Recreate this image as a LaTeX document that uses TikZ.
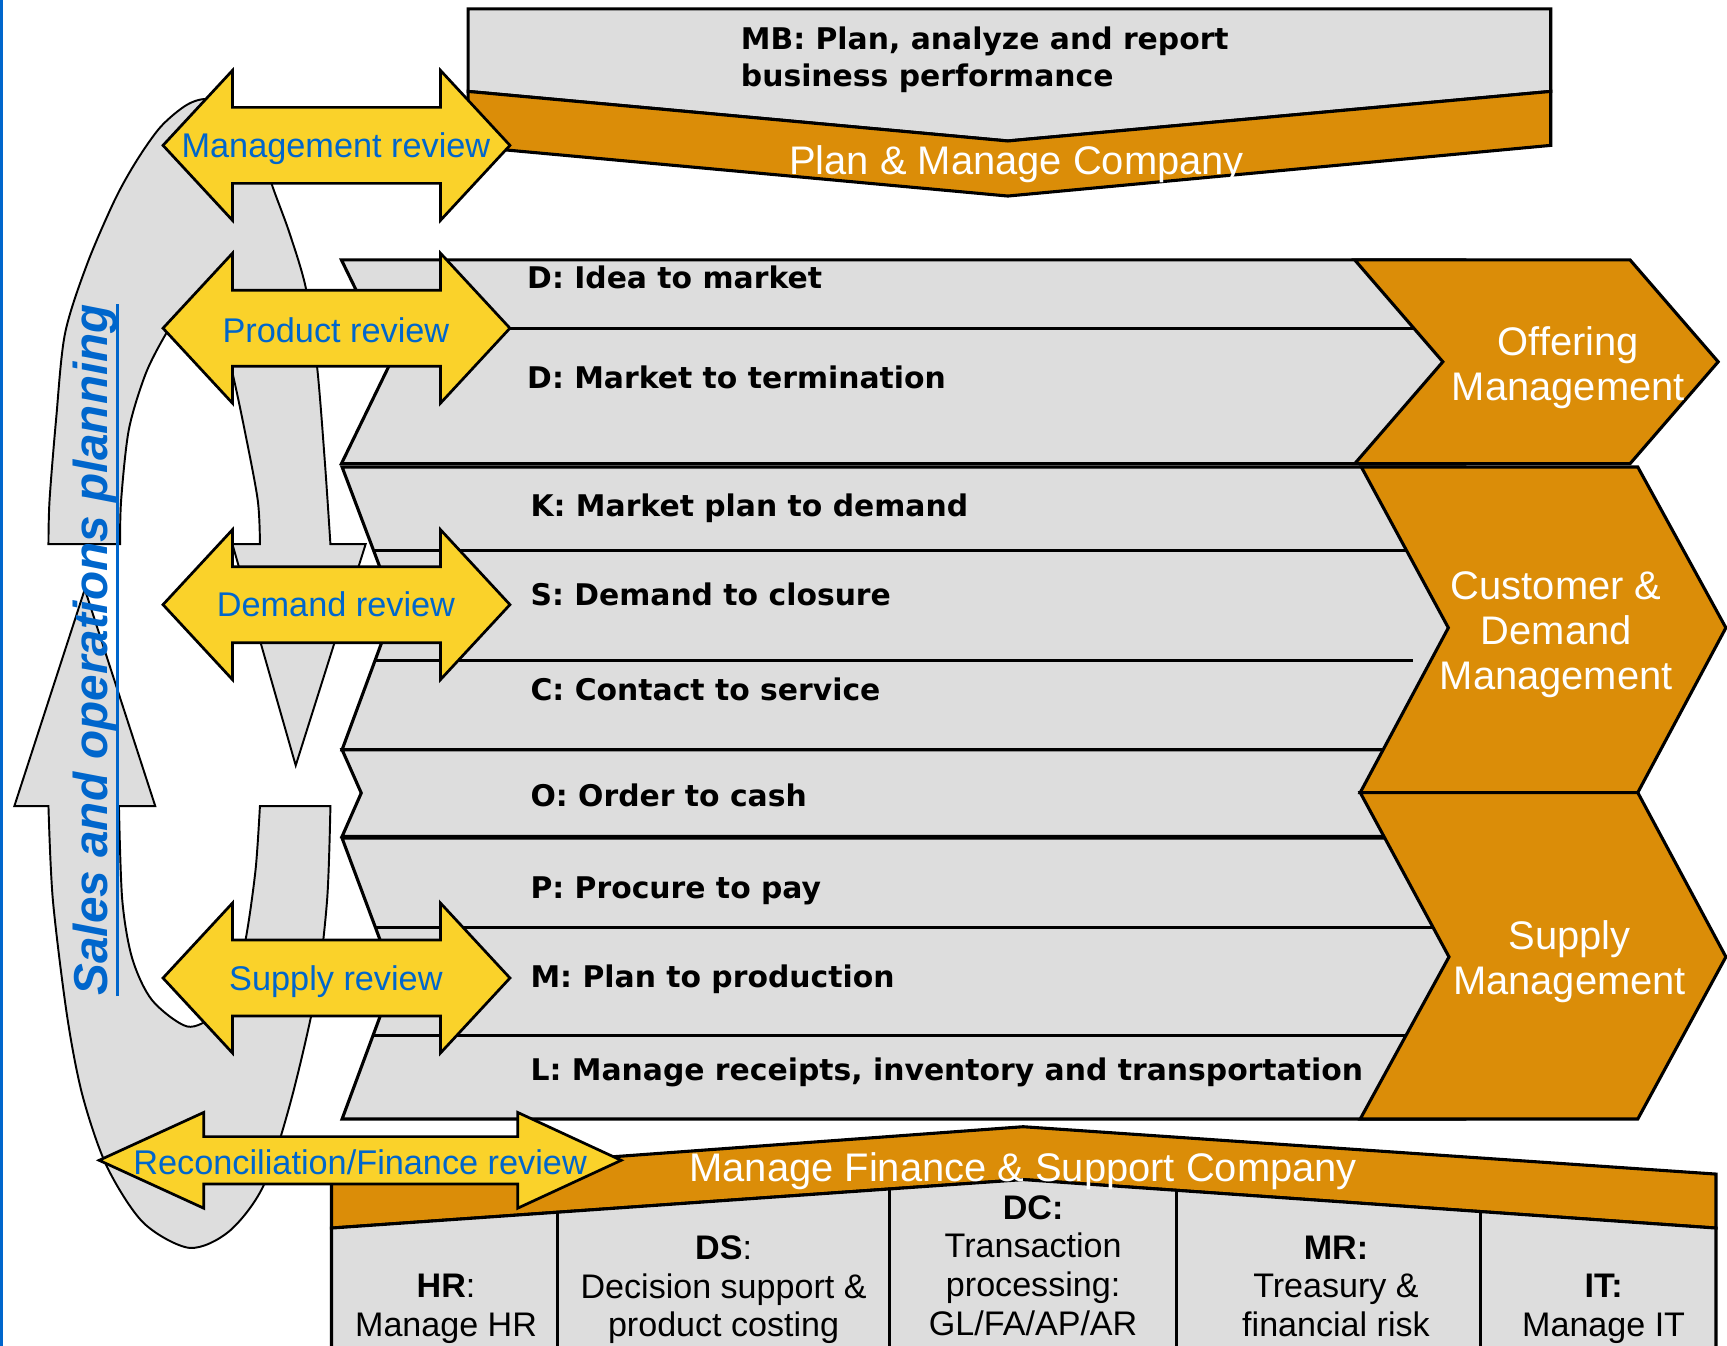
\documentclass[tikz,border=0pt]{standalone}
\usepackage{fontspec}
\setmainfont{Liberation Sans}
\newfontfamily\heavyfont{DejaVu Sans}
\usetikzlibrary{positioning}
\definecolor{revyellow}{RGB}{250,210,42}
\definecolor{procgray}{RGB}{221,221,221}
\definecolor{mgmtorange}{RGB}{219,141,8}
\definecolor{sopblue}{RGB}{0,102,204}
\tikzset{
  loopshape/.style={fill=procgray, draw=black, line width=0.5pt},
  rowshape/.style={fill=procgray, draw=black, line width=0.8pt},
  rowline/.style={draw=black, line width=0.8pt},
  chevshape/.style={fill=mgmtorange, draw=black, line width=0.8pt},
  revarrow/.style={fill=revyellow, draw=black, line width=0.7pt},
  revtext/.style={text=sopblue, inner sep=0pt, font=\fontsize{8.85}{10}\selectfont},
  proctext/.style={anchor=base west, align=left, inner sep=0pt, font=\heavyfont\bfseries\fontsize{7.7}{9.7}\selectfont},
  whitetext/.style={text=white, align=center, inner sep=0pt, font=\fontsize{10.3}{11.6}\selectfont},
  boxtext/.style={align=center, inner sep=0pt, font=\fontsize{8.8}{10}\selectfont},
  soptext/.style={text=sopblue, inner sep=0pt, font=\bfseries\itshape\fontsize{12.3}{14}\selectfont}
}
\begin{document}
\begin{tikzpicture}[x=0.01cm,y=-0.01cm]
		\useasboundingbox (0,0) rectangle (1568,1222);
		\clip (0,0) rectangle (1568,1222);
		\fill[sopblue] (0,0) rectangle (3,1222);
		\draw[loopshape] (109,494) -- (44,494)
			-- plot[smooth] coordinates {(44,494) (45,454) (51,380) (59,303) (79,240) (104,182) (124,146) (146,115) (170,95) (190,90) (215,101) (235,128) (247,168) (263,212) (278,263) (288,334) (295,420) (300,494)}
			-- (332,494) -- (268.5,695) -- (211,494) -- (236,494)
			-- plot[smooth] coordinates {(236,494) (234,454) (222,390) (210,334) (198,290) (182,270) (165,282) (149,306) (132,340) (117,390) (110,454) (109,494)}
			-- cycle;
		\draw[loopshape] (13,732) -- (77,535) -- (141,732) -- (108,732)
			-- plot[smooth] coordinates {(108,732) (111,817) (120,870) (138,908) (170,932) (195,921) (212,892) (223,853) (232,790) (236,732)}
			-- (300,732)
			-- plot[smooth] coordinates {(300,732) (297,817) (287,900) (264,1000) (239,1077) (208,1118) (172,1133) (130,1110) (97,1059) (75,995) (61,923) (48,817) (44,732)}
			-- cycle;
		\draw[rowshape] (425,8) -- (1408,8) -- (1408,83) -- (915,128) -- (425,83) -- cycle;
		\draw[chevshape] (425,83) -- (915,128) -- (1408,83) -- (1408,132) -- (915,178) -- (425,133) -- cycle;
		\draw[rowshape] (310,236) -- (1330,236) -- (1330,421) -- (310,421) -- (355,328.5) -- cycle;
		\draw[rowshape] (310.6,424) -- (1330,424) -- (1330,680.7) -- (310.6,680.7) -- (358.5,551) -- cycle;
		\draw[rowshape] (310.6,680.7) -- (1330,680.7) -- (1330,759.5) -- (310.6,759.5) -- (328,720) -- cycle;
		\draw[rowshape] (310.6,761) -- (1330,761) -- (1330,1016) -- (310.6,1016) -- (358,888) -- cycle;
		\draw[rowline] (340,298) -- (1284.3,298);
		\draw[rowline] (339.7,500) -- (1277,500);
		\draw[rowline] (340.5,600) -- (1282.6,600);
		\draw[rowline] (341.5,842) -- (1301.4,842);
		\draw[rowline] (338.5,940) -- (1276.6,940);
		\draw[chevshape] (1230,236) -- (1480,236) -- (1560,328.5) -- (1480,421) -- (1230,421) -- (1310,328.5) -- cycle;
		\draw[chevshape] (1236,424) -- (1487,424) -- (1567,570) -- (1487,719.6) -- (1235,719.6) -- (1315,570) -- cycle;
		\draw[chevshape] (1235,719.6) -- (1487,719.6) -- (1567,868.8) -- (1487,1016) -- (1235,1016) -- (1315.6,868.8) -- cycle;
		\draw[chevshape] (301,1069) -- (929,1023) -- (1558,1066) -- (1558,1115) -- (929,1071) -- (301,1115) -- cycle;
		\draw[rowshape] (301,1115) -- (929,1071) -- (1558,1115) -- (1558,1240) -- (301,1240) -- cycle;
		\draw[rowline] (506.3,1100.6) -- (506.3,1240);
		\draw[rowline] (807.8,1079.5) -- (807.8,1240);
		\draw[rowline] (1068.1,1080.7) -- (1068.1,1240);
		\draw[rowline] (1344.1,1100) -- (1344.1,1240);
		\draw[revarrow] (148,132) -- (211,64) -- (211,97.5) -- (400,97.5) -- (400,64) -- (463,132) -- (400,200) -- (400,166.5) -- (211,166.5) -- (211,200) -- cycle;
		\draw[revarrow] (148,298) -- (211,230) -- (211,263.5) -- (400,263.5) -- (400,230) -- (463,298) -- (400,366) -- (400,332.5) -- (211,332.5) -- (211,366) -- cycle;
		\draw[revarrow] (148,549) -- (211,481) -- (211,514.5) -- (400,514.5) -- (400,481) -- (463,549) -- (400,617) -- (400,583.5) -- (211,583.5) -- (211,617) -- cycle;
		\draw[revarrow] (148,888) -- (211,820) -- (211,853.5) -- (400,853.5) -- (400,820) -- (463,888) -- (400,956) -- (400,922.5) -- (211,922.5) -- (211,956) -- cycle;
		\draw[revarrow] (90,1053.5) -- (185,1010) -- (185,1032) -- (470,1032) -- (470,1010) -- (564,1053.5) -- (470,1097) -- (470,1075) -- (185,1075) -- (185,1097) -- cycle;
		\node[revtext] (mgmtrev) at (305,135) {Management review};
		\node[revtext] (prodrev) at (305,300) {Product review};
		\node[revtext] (demrev) at (305,549) {Demand review};
		\node[revtext] (suprev) at (305,891) {Supply review};
		\node[revtext] (finrev) at (327,1055) {Reconciliation/Finance review};
		\node[proctext] (mb) at (672,79) {MB: Plan, analyze and report\\business performance};
		\node[proctext] (idea) at (478,262) {D: Idea to market};
		\node[proctext] (term) at (478,353) {D: Market to termination};
		\node[proctext] (kplan) at (481,469) {K: Market plan to demand};
		\node[proctext] (sclos) at (481,550) {S: Demand to closure};
		\node[proctext] (cserv) at (481,636) {C: Contact to service};
		\node[proctext] (ocash) at (481,732) {O: Order to cash};
		\node[proctext] (ppay) at (481,816) {P: Procure to pay};
		\node[proctext] (mprod) at (481,897) {M: Plan to production};
		\node[proctext] (lrec) at (481,981) {L: Manage receipts, inventory and transportation};
		\node[whitetext] (planco) at (923,149) {Plan \& Manage Company};
		\node[whitetext] (offer) at (1424,333.5) {Offering\\Management};
		\node[whitetext] (custd) at (1413,576.5) {Customer \&\\Demand\\Management};
		\node[whitetext] (suppm) at (1425,873) {Supply\\Management};
		\node[whitetext] (finco) at (929,1063) {Manage Finance \& Support Company};
		\node[boxtext] (hr) at (405,1188.5) {\textbf{HR}:\\Manage HR};
		\node[boxtext] (ds) at (657,1171) {\textbf{DS}:\\Decision support \&\\product costing};
		\node[boxtext] (dc) at (938,1149) {\textbf{DC:}\\Transaction\\processing:\\GL/FA/AP/AR};
		\node[boxtext] (mr) at (1213,1168) {\textbf{MR:}\\Treasury \&\\financial risk};
		\node[boxtext] (it) at (1456,1188.5) {\textbf{IT:}\\Manage IT};
		\node[soptext, rotate=90] (sop) at (86,590) {Sales and operations planning};
		\draw[sopblue, line width=0.9pt] (sop.south west) -- (sop.south east);
\end{tikzpicture}
\end{document}
